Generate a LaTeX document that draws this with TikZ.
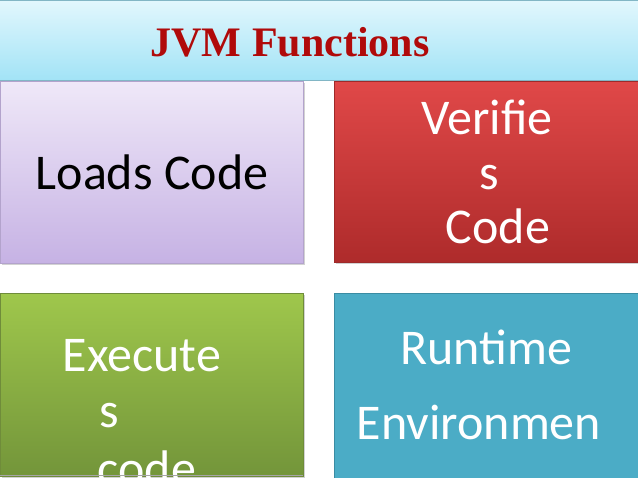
\documentclass[tikz,border=0pt]{standalone}
\usepackage{fontspec}
\setmainfont{Liberation Serif}
\newfontfamily\calib{Carlito}
\usetikzlibrary{shadows}
\definecolor{titlered}{HTML}{B00A0A}
\definecolor{bantop}{HTML}{E2F7FD}
\definecolor{banbot}{HTML}{A2E3F6}
\definecolor{purtop}{HTML}{EFE8F8}
\definecolor{purbot}{HTML}{C6B2E4}
\definecolor{purline}{HTML}{B3A3CC}
\definecolor{redtop}{HTML}{E04848}
\definecolor{redbot}{HTML}{AE2B2B}
\definecolor{redline}{HTML}{9E2A2A}
\definecolor{grntop}{HTML}{9FC74C}
\definecolor{grnbot}{HTML}{73953A}
\definecolor{grnline}{HTML}{6F8C3A}
\definecolor{tealfill}{HTML}{4BACC6}
\definecolor{tealline}{HTML}{3A8CA3}
\tikzset{
  tile/.style={rectangle, anchor=north west, inner sep=0pt, line width=0.6pt,
    drop shadow={opacity=0.35, shadow xshift=1.5pt, shadow yshift=-2pt}},
  big/.style={font=\calib\fontsize{50}{57}\selectfont, anchor=base, inner sep=0pt},
}
\begin{document}
\begin{tikzpicture}[x=1pt,y=-1pt]
\useasboundingbox (0,0) rectangle (638,478);
\fill[white] (0,0) rectangle (638,478);
\begin{scope}
\clip (0,0) rectangle (638,478);
% banner
\node[rectangle, anchor=north west, inner sep=0pt, minimum width=640pt, minimum height=80pt,
  top color=bantop, bottom color=banbot, draw=banbot!80!black, line width=0.4pt] (banner) at (-1,0) {};
\node[font=\bfseries\fontsize{42}{46}\selectfont, text=titlered, anchor=base] (title) at (290,57) {JVM Functions};
% tiles
\node[tile, minimum width=303pt, minimum height=182pt, top color=purtop, bottom color=purbot, draw=purline] (load) at (0,81) {};
\node[tile, minimum width=310pt, minimum height=181pt, top color=redtop, bottom color=redbot, draw=redline] (verify) at (334,81) {};
\node[tile, minimum width=303pt, minimum height=183pt, top color=grntop, bottom color=grnbot, draw=grnline] (exec) at (0,293) {};
\node[tile, minimum width=310pt, minimum height=200pt, fill=tealfill, draw=tealline] (runtime) at (334,293) {};
% texts
\node[big, text=black] (t1) at (152,190) {Loads Code};
\node[big, text=white] (t2a) at (487,135) {Verifie};
\node[big, text=white] (t2b) at (489,190) {s};
\node[big, text=white] (t2c) at (498,244) {Code};
\node[big, text=white] (t3a) at (142,372) {Execute};
\node[big, text=white] (t3b) at (109,428) {s};
\node[big, text=white] (t3c) at (147,486) {code};
\node[big, text=white] (t4a) at (486,365) {Runtime};
\node[big, text=white] (t4b) at (479,440) {Environmen};
\draw[gray!70, line width=1pt] (0,476) -- (303,476);
\end{scope}
\end{tikzpicture}
\end{document}
